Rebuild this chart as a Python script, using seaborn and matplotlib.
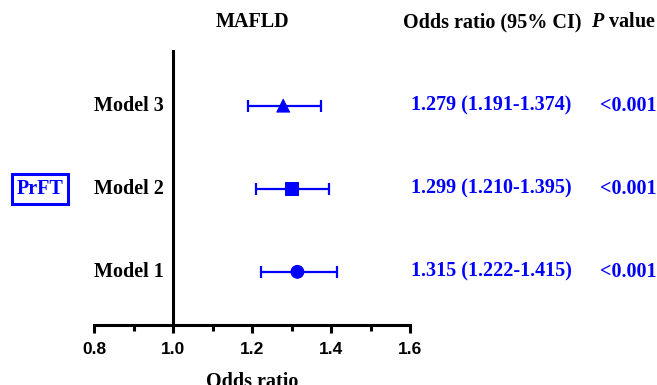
import numpy as np
import pandas as pd
import matplotlib
matplotlib.use("Agg")
import matplotlib.pyplot as plt
import matplotlib.transforms as mtransforms
from matplotlib.ticker import MultipleLocator
import seaborn as sns

# --- data ---
models = ["Model 1", "Model 2", "Model 3"]
odds = [1.315, 1.299, 1.279]
ci_low = [1.222, 1.210, 1.191]
ci_high = [1.415, 1.395, 1.374]
p_text = ["<0.001", "<0.001", "<0.001"]
markers = ["o", "s", "^"]
row_pos = [1, 2, 3]

df = pd.DataFrame({"model": models, "OR": odds, "lo": ci_low, "hi": ci_high,
                   "p": p_text, "y": row_pos})

sns.set_theme(style="white")
plt.rcParams["font.family"] = ["Liberation Serif", "DejaVu Serif"]
plt.rcParams["text.color"] = "black"
plt.rcParams["axes.labelcolor"] = "black"
plt.rcParams["xtick.color"] = "black"
plt.rcParams["mathtext.fontset"] = "custom"
plt.rcParams["mathtext.it"] = "Liberation Serif:italic:bold"
plt.rcParams["mathtext.rm"] = "Liberation Serif:bold"

blue = "#0000ff"
serif = ["Liberation Serif", "DejaVu Serif"]
sans = ["Liberation Sans", "DejaVu Sans"]
fs = 14.5

fig = plt.figure(figsize=(6.57, 3.85), dpi=100)
ax = fig.add_axes([94 / 657, 60 / 385, 316 / 657, 275 / 385])

# error bars + point markers
ax.errorbar(df["OR"], df["y"], xerr=[df["OR"] - df["lo"], df["hi"] - df["OR"]],
            fmt="none", ecolor=blue, elinewidth=1.6, capsize=4.5, capthick=1.6, zorder=2)
sns.scatterplot(data=df, x="OR", y="y", style="model", markers=dict(zip(models, markers)),
                color=blue, s=85, edgecolor=blue, legend=False, ax=ax, zorder=3)

ax.axvline(1.0, color="black", lw=2.2, zorder=1)

ax.set_xlim(0.8, 1.6)
ax.set_ylim(0.36, 3.67)
ax.xaxis.set_major_locator(MultipleLocator(0.2))
ax.xaxis.set_minor_locator(MultipleLocator(0.1))
ax.set_yticks([])
ax.set_ylabel("")
for s in ["left", "right", "top"]:
    ax.spines[s].set_visible(False)
ax.spines["bottom"].set_linewidth(2.2)
ax.spines["bottom"].set_color("black")
ax.tick_params(axis="x", which="major", direction="out", length=6, width=2.2,
               bottom=True, color="black", labelcolor="black", pad=6)
ax.tick_params(axis="x", which="minor", direction="out", length=4.5, width=2.2,
               bottom=True, color="black")
ax.set_xticklabels(["%.1f" % v for v in ax.get_xticks()],
                   fontfamily=sans, fontweight="bold", fontsize=12.5)

ax.set_xlabel("Odds ratio", fontfamily=serif, fontweight="bold", fontsize=fs,
              labelpad=11, color="black")

# header row
fig.text(252 / 657, 1 - 22 / 385, "MAFLD", ha="center", va="center",
         fontfamily=serif, fontweight="bold", fontsize=fs, color="black")
fig.text(492 / 657, 1 - 22 / 385, "Odds ratio (95% CI)", ha="center", va="center",
         fontfamily=serif, fontweight="bold", fontsize=fs, color="black")
fig.text(623 / 657, 1 - 22 / 385, r"$\it{P}$ value", ha="center", va="center",
         fontfamily=serif, fontweight="bold", fontsize=fs, color="black")

# row labels
for _, r in df.iterrows():
    ax.text(0.977, r["y"], r["model"], ha="right", va="center", color="black",
            fontfamily=serif, fontweight="bold", fontsize=fs)

# right-hand columns
trans = mtransforms.blended_transform_factory(fig.transFigure, ax.transData)
for _, r in df.iterrows():
    fig.text(491 / 657, r["y"], "%.3f (%.3f-%.3f)" % (r["OR"], r["lo"], r["hi"]),
             transform=trans, ha="center", va="center", color=blue,
             fontfamily=serif, fontweight="bold", fontsize=fs)
    fig.text(628 / 657, r["y"], r["p"], transform=trans, ha="center", va="center",
             color=blue, fontfamily=serif, fontweight="bold", fontsize=fs)

# group label in a box
fig.text(40 / 657, 2, "PrFT", transform=trans, ha="center", va="center", color=blue,
         fontfamily=serif, fontweight="bold", fontsize=fs,
         bbox=dict(boxstyle="square,pad=0.25", facecolor="white", edgecolor=blue, lw=2.2))

fig.savefig("out.png", dpi=100)
